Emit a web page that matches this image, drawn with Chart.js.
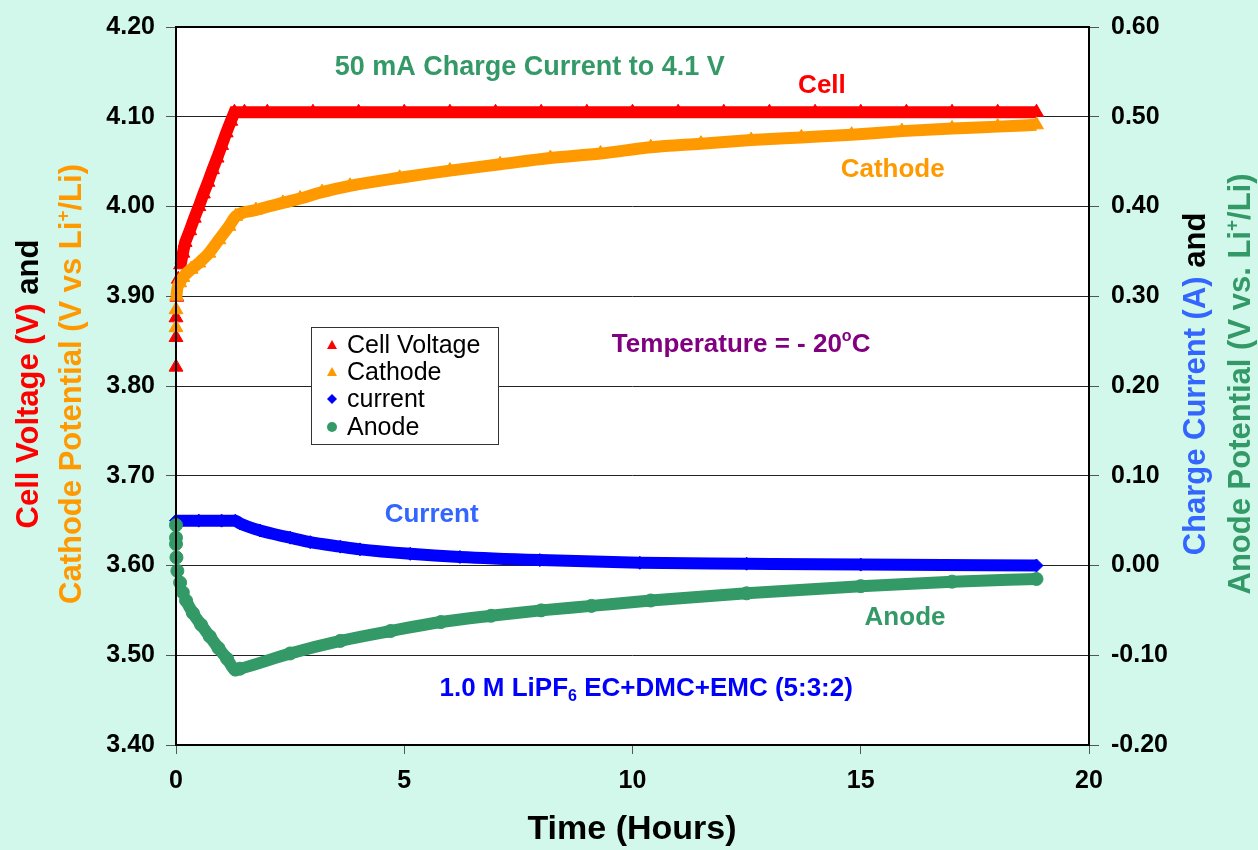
<!DOCTYPE html>
<html>
<head>
<meta charset="utf-8">
<script src="https://cdn.jsdelivr.net/npm/chart.js@4.4.0/dist/chart.umd.min.js"></script>
<style>
  html, body { margin: 0; padding: 0; background: #d2f8ec; }
  #wrap { width: 1258px; height: 850px; position: relative; }
</style>
</head>
<body>
<div id="wrap"><canvas id="chart"></canvas></div>
<script>
// Values
const cellTime = [0, 0, 0, 0.02, 0.05, 0.1, 0.15, 0.2, 0.3, 0.4, 0.5, 0.6, 0.7, 0.8, 0.9, 1.0, 1.1, 1.2, 1.28,
  1.5, 2, 3, 4, 5, 6, 7, 8, 9, 10, 11, 12, 13, 14, 15, 16, 17, 18, 18.85];
const cellVolt = [3.821, 3.854, 3.876, 3.899, 3.919, 3.935, 3.948, 3.96, 3.973, 3.987, 4.0, 4.014, 4.027, 4.041, 4.054, 4.068, 4.082, 4.095, 4.105,
  4.105, 4.105, 4.105, 4.105, 4.105, 4.105, 4.105, 4.105, 4.105, 4.105, 4.105, 4.105, 4.105, 4.105, 4.105, 4.105, 4.105, 4.105, 4.105];

const cathodeTime = [0, 0, 0.01, 0.08, 0.15, 0.33, 0.5, 0.72, 0.94, 1.16, 1.31, 1.75, 2.34, 2.72, 3.2, 3.81, 4.9, 6.0, 7.1, 8.2,
  9.3, 10.4, 11.5, 12.6, 13.7, 14.8, 15.9, 17, 18, 18.85];
const cathodeVolt = [3.865, 3.885, 3.9, 3.915, 3.921, 3.93, 3.937, 3.948, 3.963, 3.978, 3.989, 3.996, 4.004, 4.009, 4.016, 4.023, 4.032, 4.04, 4.047, 4.054,
  4.059, 4.066, 4.07, 4.074, 4.077, 4.08, 4.084, 4.087, 4.089, 4.091];

const currentTime = [0, 0.5, 1.0, 1.3, 1.4, 1.84, 2.5, 2.94, 3.6, 4.03, 5.13, 6.22, 7.97, 10.16, 12.5, 15, 18.85];
const currentAmp = [0.05, 0.05, 0.05, 0.05, 0.047, 0.039, 0.031, 0.026, 0.021, 0.018, 0.013, 0.0095, 0.006, 0.003, 0.002, 0.001, 0.0];

const anodeTime = [0, 0, 0, 0.01, 0.03, 0.09, 0.15, 0.22, 0.37, 0.55, 0.74, 0.93, 1.12, 1.3, 1.4, 2.5, 3.6, 4.7, 5.8, 6.9,
  8.0, 9.1, 10.4, 12.5, 15, 17, 18.85];
const anodeVolt = [0.045, 0.031, 0.024, 0.009, -0.006, -0.019, -0.03, -0.039, -0.053, -0.066, -0.079, -0.092, -0.104, -0.116, -0.115, -0.098, -0.084, -0.073, -0.063, -0.056,
  -0.05, -0.045, -0.039, -0.031, -0.023, -0.018, -0.015];

const xTicks = [0, 5, 10, 15, 20];
const leftTicks = [3.40, 3.50, 3.60, 3.70, 3.80, 3.90, 4.00, 4.10, 4.20];
const rightTicks = [-0.20, -0.10, 0.00, 0.10, 0.20, 0.30, 0.40, 0.50, 0.60];

const RED = '#ff0000', ORANGE = '#ff9900', BLUE = '#0000ff', GREEN = '#339966';
const FONT = '"Liberation Sans", Arial, sans-serif';

function pts(xs, ys) {
  return xs.map((x, i) => ({ x: x, y: ys[i] }));
}

// early readings are separate markers, not joined into the band
function series(label, xs, ys, color, style, radius, axis, gapBefore, order, smooth) {
  return {
    label: label,
    data: pts(xs, ys),
    yAxisID: axis,
    showLine: true,
    clip: false,
    borderColor: color,
    borderWidth: 12,
    cubicInterpolationMode: smooth ? 'monotone' : 'default',
    tension: smooth ? 0.4 : 0,
    pointStyle: style,
    pointRadius: radius,
    pointBackgroundColor: color,
    pointBorderColor: color,
    pointBorderWidth: 1,
    order: order,
    segment: {
      borderColor: ctx => (ctx.p0.parsed.x < gapBefore ? 'rgba(0,0,0,0)' : color)
    }
  };
}

function drawRich(ctx, parts, x, y, size, align) {
  let w = 0;
  parts.forEach(p => {
    ctx.font = 'bold ' + (p[2] ? Math.round(size * 0.62) : size) + 'px ' + FONT;
    p.w = ctx.measureText(p[0]).width;
    w += p.w;
  });
  let cx = align === 'center' ? x - w / 2 : x;
  ctx.textAlign = 'left';
  ctx.textBaseline = 'alphabetic';
  parts.forEach(p => {
    ctx.font = 'bold ' + (p[2] ? Math.round(size * 0.62) : size) + 'px ' + FONT;
    ctx.fillStyle = p[1];
    let dy = p[2] === 'sup' ? -size * 0.4 : (p[2] === 'sub' ? size * 0.22 : 0);
    ctx.fillText(p[0], cx, y + dy);
    cx += p.w;
  });
}

function drawVertical(ctx, parts, baseX, centerY, size) {
  ctx.save();
  ctx.translate(baseX, centerY);
  ctx.rotate(-Math.PI / 2);
  drawRich(ctx, parts, 0, 0, size, 'center');
  ctx.restore();
}

const plotFrame = {
  id: 'plotFrame',
  beforeDraw(chart) {
    const a = chart.chartArea, ctx = chart.ctx;
    ctx.save();
    ctx.fillStyle = '#ffffff';
    ctx.fillRect(a.left, a.top, a.right - a.left, a.bottom - a.top);
    ctx.restore();
  },
  afterDatasetsDraw(chart) {
    const a = chart.chartArea, ctx = chart.ctx;
    const sx = chart.scales.x, sy = chart.scales.y;
    ctx.save();
    ctx.strokeStyle = '#000';
    ctx.lineWidth = 2;
    ctx.strokeRect(a.left, a.top, a.right - a.left, a.bottom - a.top);

    // labels inside the plot, placed in data units
    const at = (t, v) => [sx.getPixelForValue(t), sy.getPixelForValue(v)];
    let p;
    p = at(7.75, 4.147); drawRich(ctx, [['50 mA Charge Current to 4.1 V', GREEN]], p[0], p[1], 27, 'center');
    p = at(14.15, 4.127); drawRich(ctx, [['Cell', RED]], p[0], p[1], 26, 'center');
    p = at(15.7, 4.033); drawRich(ctx, [['Cathode', ORANGE]], p[0], p[1], 26, 'center');
    p = at(12.38, 3.838); drawRich(ctx, [['Temperature = - 20', '#800080'], ['o', '#800080', 'sup'], ['C', '#800080']], p[0], p[1], 26, 'center');
    p = at(5.6, 3.648); drawRich(ctx, [['Current', '#3366ff']], p[0], p[1], 26, 'center');
    p = at(15.97, 3.534); drawRich(ctx, [['Anode', GREEN]], p[0], p[1], 26, 'center');
    p = at(10.3, 3.455); drawRich(ctx, [['1.0 M LiPF', BLUE], ['6', BLUE, 'sub'], [' EC+DMC+EMC (5:3:2)', BLUE]], p[0], p[1], 26, 'center');

    // legend box
    const lx = 311, ly = 327, lw = 187, lh = 117;
    ctx.fillStyle = '#fff';
    ctx.fillRect(lx, ly, lw, lh);
    ctx.strokeStyle = '#333';
    ctx.lineWidth = 1;
    ctx.strokeRect(lx + 0.5, ly + 0.5, lw, lh);
    const rows = [345, 372, 399, 427];
    chart.data.datasets.forEach((ds, i) => {
      const my = rows[i], mx = 332;
      ctx.fillStyle = ds.pointBackgroundColor;
      ctx.beginPath();
      if (ds.pointStyle === 'triangle') {
        ctx.moveTo(mx, my - 5); ctx.lineTo(mx + 5, my + 4); ctx.lineTo(mx - 5, my + 4);
      } else if (ds.pointStyle === 'rectRot') {
        ctx.moveTo(mx, my - 5); ctx.lineTo(mx + 5, my); ctx.lineTo(mx, my + 5); ctx.lineTo(mx - 5, my);
      } else {
        ctx.arc(mx, my, 5, 0, Math.PI * 2);
      }
      ctx.closePath();
      ctx.fill();
      ctx.fillStyle = '#000';
      ctx.font = '25px ' + FONT;
      ctx.textAlign = 'left';
      ctx.textBaseline = 'middle';
      ctx.fillText(ds.label, 347, my + 1);
    });
    ctx.restore();
  },
  afterDraw(chart) {
    const ctx = chart.ctx;
    drawVertical(ctx, [['Cell Voltage (V)', RED], [' and', '#000']], 38, 384, 31);
    drawVertical(ctx, [['Cathode Potential (V vs Li', ORANGE], ['+', ORANGE, 'sup'], ['/Li)', ORANGE]], 81, 384, 31);
    drawVertical(ctx, [['Charge Current (A)', '#3366ff'], [' and', '#000']], 1205, 384, 31);
    drawVertical(ctx, [['Anode Potential (V vs. Li', GREEN], ['+', GREEN, 'sup'], ['/Li)', GREEN]], 1250, 384, 31);
    drawRich(ctx, [['Time (Hours)', '#000']], 632, 839, 34, 'center');
  }
};

const tickFont = { family: FONT, size: 25, weight: 'bold' };

new Chart(document.getElementById('chart'), {
  type: 'scatter',
  data: {
    datasets: [
      series('Cell Voltage', cellTime, cellVolt, RED, 'triangle', 8, 'y', 0.1, 4, false),
      series('Cathode', cathodeTime, cathodeVolt, ORANGE, 'triangle', 8, 'y', 0.005, 3, true),
      series('current', currentTime, currentAmp, BLUE, 'rectRot', 6.5, 'y1', -1, 2, true),
      series('Anode', anodeTime, anodeVolt, GREEN, 'circle', 6.5, 'y1', 0.2, 1, true)
    ]
  },
  options: {
    responsive: true,
    maintainAspectRatio: false,
    animation: false,
    layout: { padding: { top: 23, left: 0, right: 0, bottom: 0 } },
    plugins: { legend: { display: false }, tooltip: { enabled: false } },
    scales: {
      x: {
        type: 'linear', min: 0, max: 20,
        afterBuildTicks: s => { s.ticks = xTicks.map(v => ({ value: v })); },
        afterFit: s => { s.height = 105; },
        grid: { drawOnChartArea: false, tickLength: 9, tickColor: '#555' },
        border: { display: false },
        ticks: { color: '#000', font: tickFont, padding: 12 }
      },
      y: {
        position: 'left', min: 3.4, max: 4.2,
        afterBuildTicks: s => { s.ticks = leftTicks.map(v => ({ value: v })); },
        afterFit: s => { s.width = 176; },
        grid: { color: '#222', tickLength: 10, tickColor: '#555' },
        border: { display: false },
        ticks: { color: '#000', font: tickFont, padding: 11, callback: v => v.toFixed(2) }
      },
      y1: {
        position: 'right', min: -0.2, max: 0.6,
        afterBuildTicks: s => { s.ticks = rightTicks.map(v => ({ value: v })); },
        afterFit: s => { s.width = 169; },
        grid: { drawOnChartArea: false, tickLength: 10, tickColor: '#555' },
        border: { display: false },
        ticks: { color: '#000', font: tickFont, padding: 12, callback: v => v.toFixed(2) }
      }
    }
  },
  plugins: [plotFrame]
});
</script>
</body>
</html>
